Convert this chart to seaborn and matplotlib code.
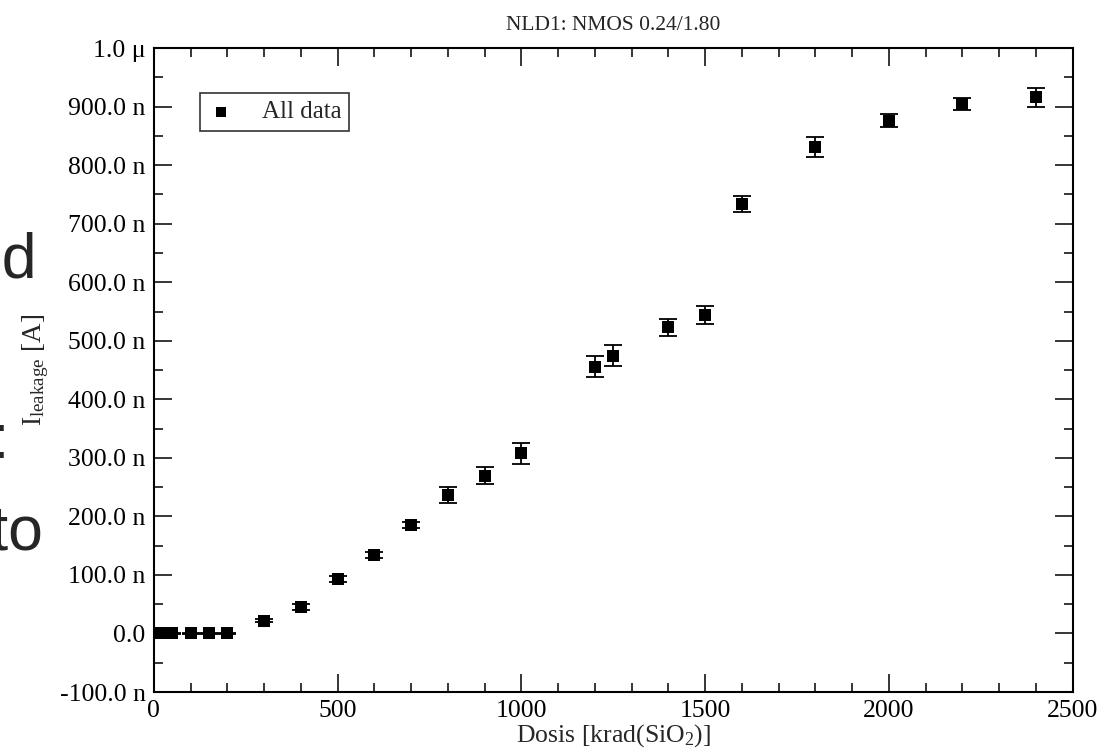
import numpy as np
import pandas as pd
from matplotlib import pyplot as plt
import seaborn as sns

# dose in krad(SiO2), leakage current in nA
dose = [0, 10, 20, 50, 100, 150, 200, 300, 400, 500, 600, 700, 800, 900, 1000,
        1200, 1250, 1400, 1500, 1600, 1800, 2000, 2200, 2400]
leak = [0, 0, 0, 0, 0, 0, 0.5, 21.8, 45, 92.5, 134, 185.7, 237, 269.4, 307.7,
        456, 474.4, 523, 544.4, 733.5, 830.8, 875.8, 904.8, 915.7]
leak_err = [1, 1, 1, 1, 1, 1, 1, 3, 5, 5, 5, 5, 13.7, 14.5, 18,
            18, 18, 15, 15, 14, 17, 11, 10, 17]

ytick_vals = [-100, 0, 100, 200, 300, 400, 500, 600, 700, 800, 900, 1000]
ytick_labels = ['-100.0 n', '0.0', '100.0 n', '200.0 n', '300.0 n', '400.0 n',
                '500.0 n', '600.0 n', '700.0 n', '800.0 n', '900.0 n', '1.0 \u03bc']
xtick_vals = [0, 500, 1000, 1500, 2000, 2500]

df = pd.DataFrame({'dose': dose, 'leak': leak, 'err': leak_err})

sns.set_theme(style='ticks')
plt.rcParams['font.family'] = ['Liberation Serif', 'DejaVu Serif']
plt.rcParams['mathtext.fontset'] = 'custom'
plt.rcParams['mathtext.rm'] = 'Liberation Serif'
plt.rcParams['mathtext.it'] = 'Liberation Serif:italic'

fig = plt.figure(figsize=(11.15, 7.54), dpi=100)
ax = fig.add_axes([0.138, 0.0822, 0.824, 0.854])

ax.errorbar(df['dose'], df['leak'], yerr=df['err'], fmt='none', ecolor='black',
            elinewidth=1.3, capsize=6.5, capthick=1.3, zorder=2)
sns.scatterplot(data=df, x='dose', y='leak', marker='s', s=68, color='black',
                edgecolor='black', linewidth=0, label='All data', ax=ax, zorder=3)

ax.set_xlim(0, 2500)
ax.set_ylim(-100, 1000)
ax.set_xticks(xtick_vals)
ax.set_xticks(np.arange(0, 2501, 100), minor=True)
ax.set_yticks(ytick_vals)
ax.set_yticklabels(ytick_labels)
ax.set_yticks(np.arange(-100, 1001, 50), minor=True)
ax.tick_params(which='both', direction='in', top=True, right=True,
               labelsize=18.5, color='black', labelcolor='black')
ax.tick_params(which='major', length=13, width=1.1, pad=6)
ax.tick_params(which='minor', length=6.5, width=1.1)
for sp in ax.spines.values():
    sp.set_linewidth(1.5)
    sp.set_color('black')

ax.set_xlabel('Dosis [krad(SiO$_2$)]', fontsize=18.5, labelpad=0)
ax.set_ylabel('I$_{\\mathrm{leakage}}$ [A]', fontsize=19.5, labelpad=6)
ax.set_title('NLD1: NMOS 0.24/1.80', fontsize=15.5, pad=13)

leg = ax.legend(loc='upper left', bbox_to_anchor=(0.05, 0.93), borderaxespad=0,
                fontsize=18, frameon=True, fancybox=False, handlelength=1.1,
                handletextpad=1.1, borderpad=0.3, markerscale=0.8)
leg.get_frame().set_edgecolor('black')
leg.get_frame().set_linewidth(1.2)

# cut-off text from the slide on the left edge
fig.text(37 / 1115, 1 - 278 / 754, 'ed', fontsize=45, family='Liberation Sans',
         ha='right', va='baseline')
fig.text(9 / 1115, 1 - 458 / 754, ':', fontsize=45, family='Liberation Sans',
         ha='right', va='baseline')
fig.text(44 / 1115, 1 - 550 / 754, 'nto', fontsize=45, family='Liberation Sans',
         ha='right', va='baseline')

fig.savefig('out.png', dpi=100)
